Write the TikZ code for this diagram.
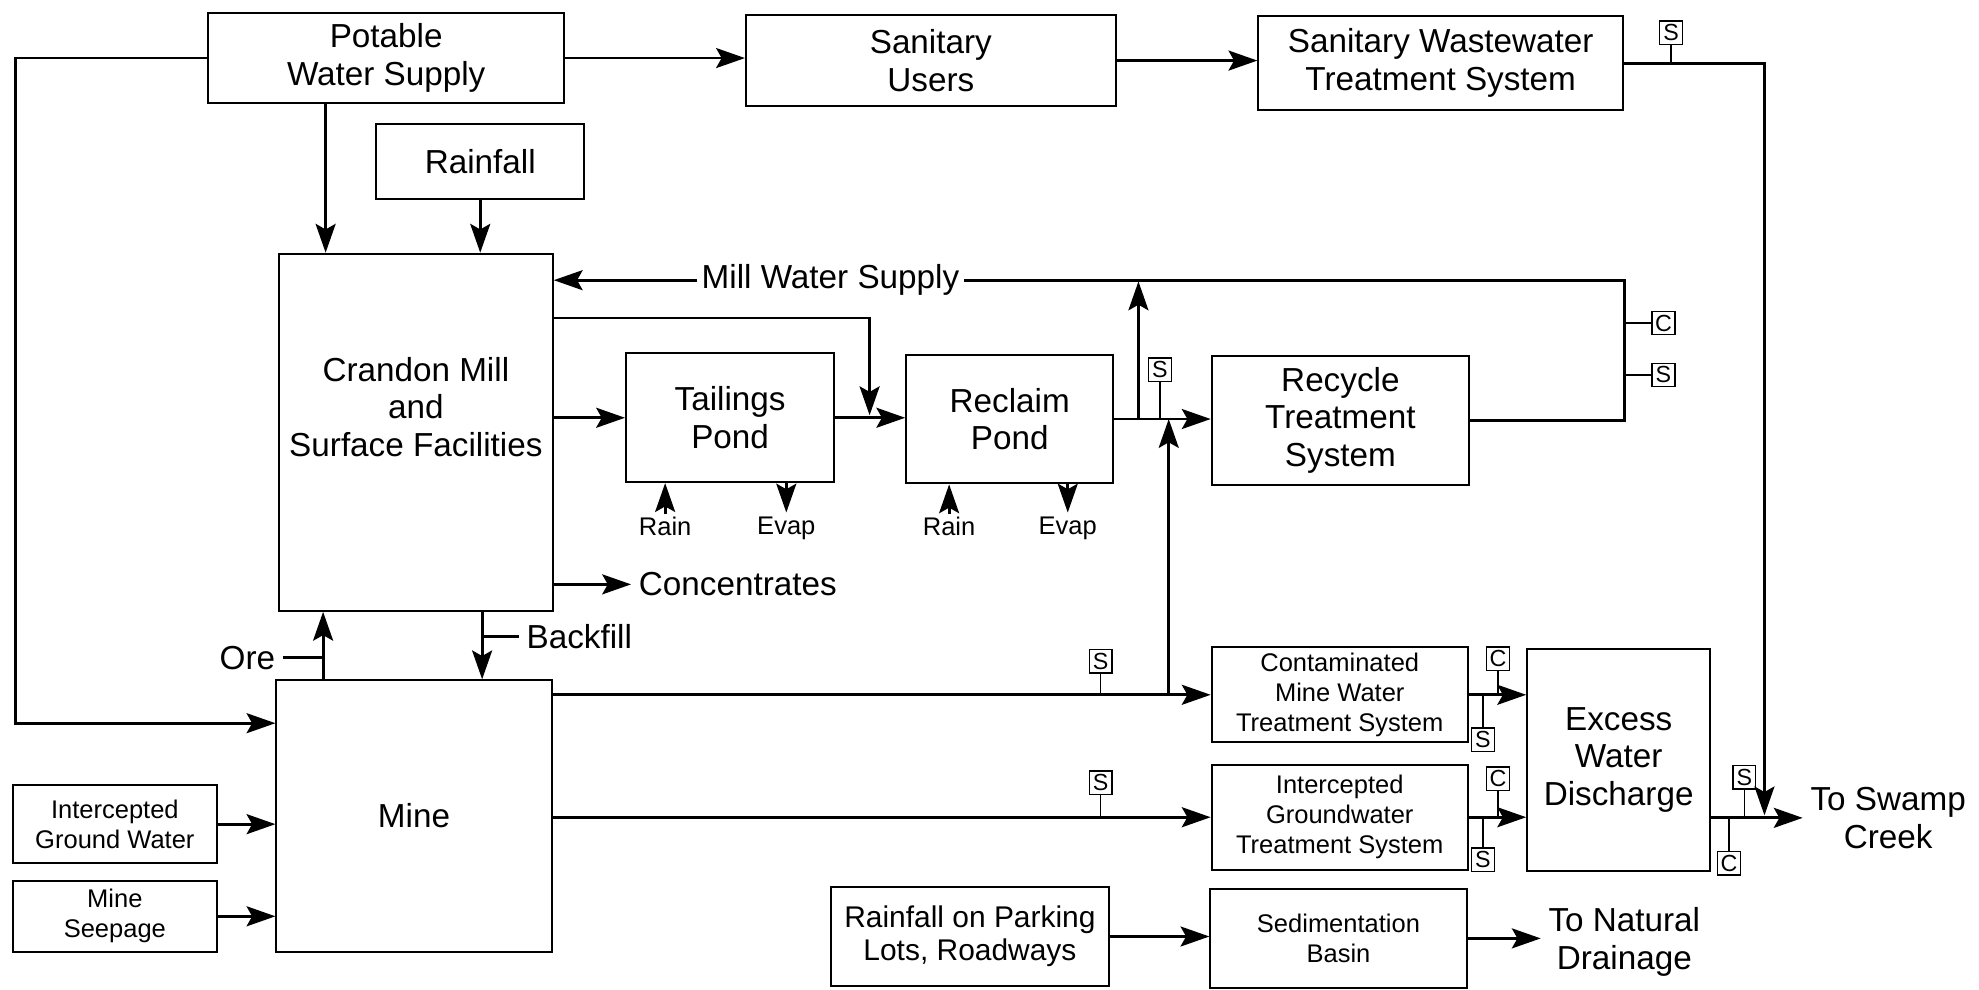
\documentclass[tikz,border=0pt]{standalone}
\usepackage{fontspec}
\setmainfont{Liberation Sans}
\usetikzlibrary{arrows.meta,positioning}
\newcommand{\smallfont}{\fontsize{11.5}{13.5}\selectfont}
\newcommand{\midfont}{\fontsize{13.5}{15}\selectfont}

\begin{document}
\begin{tikzpicture}[x=0.02cm,y=-0.02cm,
  font=\fontsize{15}{17}\selectfont,
  box/.style={draw,line width=0.9pt,align=center,inner sep=2pt},
  smallbox/.style={box,font=\smallfont},
  flow/.style={line width=1.3pt,-{Stealth[length=13pt,width=9pt,inset=2.5pt]}},
  pipe/.style={line width=1.3pt},
  tag/.style={draw,line width=0.6pt,inner sep=0pt,minimum width=0.36cm,minimum height=0.37cm,font=\fontsize{10.5}{10.5}\selectfont},
  stem/.style={line width=0.6pt},
  note/.style={font=\smallfont,inner sep=1pt}]
\useasboundingbox (0,0) rectangle (1568,784);

\node[box,minimum width=5.64cm,minimum height=1.44cm] (potable) at (306,46) {Potable\\Water Supply};
\node[box,minimum width=5.86cm,minimum height=1.44cm] (users) at (737.5,48) {Sanitary\\Users};
\node[box,minimum width=5.78cm,minimum height=1.48cm] (swts) at (1141.5,50) {Sanitary Wastewater\\Treatment System};
\node[box,minimum width=3.30cm,minimum height=1.20cm] (rainfall) at (380.5,128) {Rainfall};
\node[box,minimum width=4.34cm,minimum height=5.66cm,
  label={[align=center,yshift=0.4cm]center:Crandon Mill\\and\\Surface Facilities}] (mill) at (329.5,342.5) {};
\node[box,minimum width=3.30cm,minimum height=2.04cm] (tailings) at (578.5,331) {Tailings\\Pond};
\node[box,minimum width=3.28cm,minimum height=2.04cm] (reclaim) at (800,332) {Reclaim\\Pond};
\node[box,minimum width=4.08cm,minimum height=2.04cm] (recycle) at (1062,333) {Recycle\\Treatment\\System};
\node[box,minimum width=4.36cm,minimum height=4.30cm] (mine) at (328,646.5) {Mine};
\node[smallbox,minimum width=3.24cm,minimum height=1.24cm] (igw) at (91,653) {Intercepted\\Ground Water};
\node[smallbox,minimum width=3.24cm,minimum height=1.12cm] (seepage) at (91,726) {Mine\\Seepage};
\node[smallbox,minimum width=4.06cm,minimum height=1.50cm] (cmwts) at (1061.5,550.5) {Contaminated\\Mine Water\\Treatment System};
\node[smallbox,minimum width=4.06cm,minimum height=1.66cm] (igwts) at (1061.5,647.5) {Intercepted\\Groundwater\\Treatment System};
\node[box,minimum width=2.90cm,minimum height=3.52cm] (excess) at (1282.5,602) {Excess\\Water\\Discharge};
\node[box,font=\midfont,minimum width=4.42cm,minimum height=1.56cm] (parking) at (768.5,742) {Rainfall on Parking\\Lots, Roadways};
\node[smallbox,minimum width=4.06cm,minimum height=1.58cm] (sedim) at (1060.5,743.5) {Sedimentation\\Basin};

\node[inner sep=2pt] (millwater) at (658,222) {Mill Water Supply};
\node (ore) at (196,521) {Ore};
\node[anchor=west] (backfill) at (411,504) {Backfill};
\node[anchor=west] (conc) at (500,463) {Concentrates};
\node[align=center] (swamp) at (1496,648) {To Swamp\\Creek};
\node[align=center] (natural) at (1287,746) {To Natural\\Drainage};
\node[note] (rain1) at (527,417) {Rain};
\node[note] (evap1) at (623,419) {Evap};
\node[note] (rain2) at (752,417) {Rain};
\node[note] (evap2) at (846,419) {Evap};

\node[tag] (tsw) at (1324,26) {S};
\node[tag] (tc1) at (1318,256) {C};
\node[tag] (ts1) at (1318,297) {S};
\node[tag] (tr) at (919,293) {S};
\node[tag] (tm1) at (872,524) {S};
\node[tag] (tm2) at (872,620) {S};
\node[tag] (tc2) at (1187,522) {C};
\node[tag] (ts2) at (1175,586) {S};
\node[tag] (tc3) at (1187,617) {C};
\node[tag] (ts3) at (1175,681) {S};
\node[tag] (ts4) at (1382,616) {S};
\node[tag] (tc4) at (1370,684) {C};

\draw[flow] (potable.west) -| (12,573) -- (mine.west |- 12,573);
\draw[flow] (potable.east) -- (potable.east -| users.west);
\draw[flow] (users.east) -- (users.east -| swts.west);
\draw[flow] (swts.east) -| (1398,646);
\draw[flow] (potable.south -| 258,0) -- (mill.north -| 258,0);
\draw[flow] (rainfall.south) -- (rainfall.south |- mill.north);

\draw[pipe] (recycle.east) -| (1287,222) -- (millwater.east);
\draw[flow] (millwater.west) -- (millwater.west -| mill.east);
\draw[flow] (mill.east |- 0,252) -| (689,329);
\draw[flow] (mill.east |- tailings.west) -- (tailings.west);
\draw[flow] (tailings.east) -- (tailings.east -| reclaim.west);
\draw[flow] (reclaim.east) -- (reclaim.east -| recycle.west);
\draw[flow] (reclaim.east -| 902,0) -- (902,223);
\draw[flow] (mill.east |- conc.west) -- (conc.west);

\draw[flow] (rain1.north) -- (rain1.north |- tailings.south);
\draw[flow,shorten >=1pt] (tailings.south -| evap1.north) -- (evap1.north);
\draw[flow] (rain2.north) -- (rain2.north |- reclaim.south);
\draw[flow,shorten >=1pt] (reclaim.south -| evap2.north) -- (evap2.north);

\draw[flow] (mine.north -| 256,0) -- (mill.south -| 256,0);
\draw[pipe] (ore.east) -- (ore.east -| 256,0);
\draw[flow] (mill.south -| 382,0) -- (mine.north -| 382,0);
\draw[pipe] (backfill.west) -- (backfill.west -| 382,0);

\draw[flow] (igw.east) -- (igw.east -| mine.west);
\draw[flow] (seepage.east) -- (seepage.east -| mine.west);
\draw[flow] (mine.east |- cmwts.west) -- (cmwts.west);
\draw[flow] (mine.east |- igwts.west) -- (igwts.west);
\draw[flow] (cmwts.west -| 926,0) -- (reclaim.east -| 926,0);
\draw[flow] (cmwts.east) -- (cmwts.east -| excess.west);
\draw[flow] (igwts.east) -- (igwts.east -| excess.west);
\draw[flow] (excess.east |- swamp.west) -- (swamp.west);
\draw[flow] (parking.east) -- (parking.east -| sedim.west);
\draw[flow] (sedim.east) -- (sedim.east -| natural.west);

\draw[stem] (tsw.south) -- (tsw.south |- swts.east);
\draw[stem] (tc1.west) -- (tc1.west -| 1287,0);
\draw[stem] (ts1.west) -- (ts1.west -| 1287,0);
\draw[stem] (tr.south) -- (tr.south |- reclaim.east);
\draw[stem] (tm1.south) -- (tm1.south |- cmwts.west);
\draw[stem] (tm2.south) -- (tm2.south |- igwts.west);
\draw[stem] (tc2.south) -- (tc2.south |- cmwts.east);
\draw[stem] (ts2.north) -- (ts2.north |- cmwts.east);
\draw[stem] (tc3.south) -- (tc3.south |- igwts.east);
\draw[stem] (ts3.north) -- (ts3.north |- igwts.east);
\draw[stem] (ts4.south) -- (ts4.south |- swamp.west);
\draw[stem] (tc4.north) -- (tc4.north |- swamp.west);
\end{tikzpicture}
\end{document}
